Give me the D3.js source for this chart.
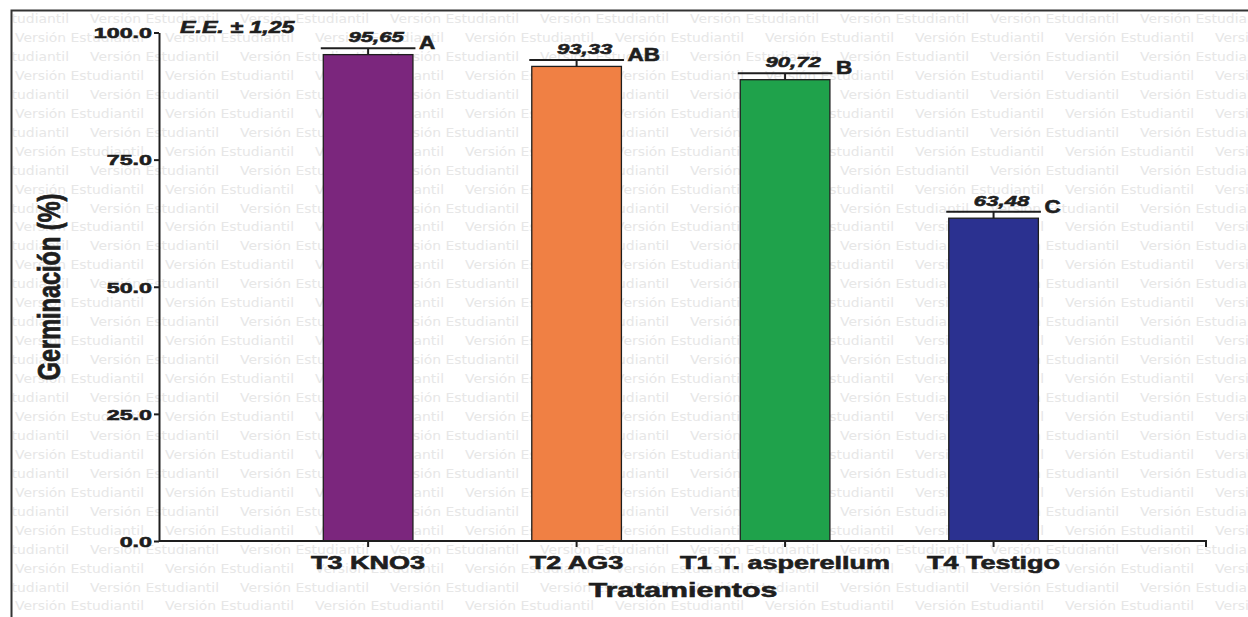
<!DOCTYPE html>
<html>
<head>
<meta charset="utf-8">
<script src="https://cdn.jsdelivr.net/npm/d3@7"></script>
<style>
body { margin: 0; background: #fff; }
svg { display: block; }
.heavy { stroke: #1e1e1e; stroke-width: 0.6px; paint-order: stroke; }
</style>
</head>
<body>
<svg width="1248" height="617"></svg>
<script type="text/javascript">
// Chart values
var categories = ['T3 KNO3', 'T2 AG3', 'T1 T. asperellum', 'T4 Testigo'];
var germination = [95.65, 93.33, 90.72, 63.48];
var valueLabels = ['95,65', '93,33', '90,72', '63,48'];
var letters = ['A', 'AB', 'B', 'C'];
var barColors = ['#7b267d', '#f08044', '#1fa24b', '#2b3190'];
var yTicks = [0, 25, 50, 75, 100];
var stdError = 1.25;

var font = "'Liberation Sans', Arial, Helvetica, sans-serif";
var ink = '#1e1e1e';

var svg = d3.select('svg');

// Scales
var x = d3.scaleBand()
    .domain(categories)
    .range([159, 1206])
    .paddingInner(0.57)
    .paddingOuter(0.796)
    .align(0.495);

var y = d3.scaleLinear()
    .domain([0, 100])
    .range([541, 32.5]);

// Clip for the watermark, inside the frame
svg.append('defs').append('clipPath')
    .attr('id', 'frameClip')
  .append('rect')
    .attr('x', 12.5).attr('y', 11.5)
    .attr('width', 1248).attr('height', 617);

// Watermark rows ("Versión Estudiantil")
var wm = svg.append('g').attr('clip-path', 'url(#frameClip)');
for (var i = 0; i < 33; i++) {
    var wy = 19 + 18.95 * i + 4;
    var off = (i % 2 === 0) ? 90 : 15;
    for (var wx = off - 150; wx < 1248; wx += 150) {
        wm.append('text')
            .attr('transform', 'translate(' + wx + ',' + wy + ') scale(1.21,1)')
            .style('font-family', "'DejaVu Sans', Verdana, sans-serif")
            .style('font-size', '11.5px')
            .style('fill', '#e7e7e7')
            .text('Versión Estudiantil');
    }
}

// Frame (top and left)
svg.append('path')
    .attr('d', 'M11.5,617V10.5H1248')
    .attr('fill', 'none')
    .attr('stroke', '#333')
    .attr('stroke-width', 2);

// Bars
svg.selectAll('rect.bar')
    .data(germination)
    .enter()
    .append('rect')
    .attr('class', 'bar')
    .attr('x', function(d, i) { return x(categories[i]); })
    .attr('y', function(d) { return y(d); })
    .attr('width', x.bandwidth())
    .attr('height', function(d) { return y(0) - y(d); })
    .attr('fill', function(d, i) { return barColors[i]; })
    .attr('stroke', ink)
    .attr('stroke-width', 1.3);

// Error bars
function cx(i) { return x(categories[i]) + x.bandwidth() / 2; }

svg.selectAll('line.err')
    .data(germination)
    .enter()
    .append('line')
    .attr('class', 'err')
    .attr('x1', function(d, i) { return cx(i); })
    .attr('x2', function(d, i) { return cx(i); })
    .attr('y1', function(d) { return y(d); })
    .attr('y2', function(d) { return y(d + stdError); })
    .attr('stroke', ink)
    .attr('stroke-width', 2);

svg.selectAll('line.cap')
    .data(germination)
    .enter()
    .append('line')
    .attr('class', 'cap')
    .attr('x1', function(d, i) { return cx(i) - x.bandwidth() / 2 - 2.5; })
    .attr('x2', function(d, i) { return cx(i) + x.bandwidth() / 2 + 2.5; })
    .attr('y1', function(d) { return y(d + stdError); })
    .attr('y2', function(d) { return y(d + stdError); })
    .attr('stroke', ink)
    .attr('stroke-width', 2);

// Value labels
svg.selectAll('text.val')
    .data(germination)
    .enter()
    .append('text')
    .attr('class', 'val heavy')
    .attr('transform', function(d, i) {
        return 'translate(' + (cx(i) + 8) + ',' + (y(d + stdError) - 6) + ') scale(1.43,1)';
    })
    .attr('text-anchor', 'middle')
    .style('font-family', font)
    .style('font-weight', 'bold')
    .style('font-style', 'italic')
    .style('font-size', '15.5px')
    .style('fill', ink)
    .text(function(d, i) { return valueLabels[i]; });

// Significance letters
svg.selectAll('text.let')
    .data(germination)
    .enter()
    .append('text')
    .attr('class', 'let heavy')
    .attr('transform', function(d, i) {
        return 'translate(' + (x(categories[i]) + x.bandwidth() + 6) + ',' + (y(d + stdError) + 1) + ') scale(1.25,1)';
    })
    .style('font-family', font)
    .style('font-weight', 'bold')
    .style('font-size', '18px')
    .style('fill', ink)
    .text(function(d, i) { return letters[i]; });

// Y axis
var gy = svg.append('g')
    .attr('transform', 'translate(159,0)')
    .call(d3.axisLeft(y).tickValues(yTicks).tickFormat(d3.format('.1f')).tickSize(5).tickSizeOuter(0));
gy.select('.domain').attr('stroke', ink).attr('stroke-width', 2);
gy.selectAll('.tick line').attr('stroke', ink).attr('stroke-width', 2);
gy.selectAll('.tick text')
    .attr('class', 'heavy')
    .attr('x', 0)
    .attr('dy', '0.35em')
    .attr('transform', 'translate(-7,0) scale(1.55,1)')
    .style('font-family', font)
    .style('font-weight', 'bold')
    .style('font-size', '15px')
    .style('fill', ink);

// X axis
var gx = svg.append('g')
    .attr('transform', 'translate(0,541)')
    .call(d3.axisBottom(x).tickSize(6).tickSizeOuter(0));
gx.select('.domain').remove();
gx.append('path')
    .attr('d', 'M159,0H1206V6')
    .attr('fill', 'none')
    .attr('stroke', ink)
    .attr('stroke-width', 2);
gx.selectAll('.tick line').attr('stroke', ink).attr('stroke-width', 2);
gx.selectAll('.tick text')
    .attr('class', 'heavy')
    .attr('y', 0)
    .attr('dy', 0)
    .attr('transform', 'translate(0,28.3) scale(1.5,1)')
    .style('font-family', font)
    .style('font-weight', 'bold')
    .style('font-size', '18px')
    .style('fill', ink);

// Standard error note
svg.append('text')
    .attr('class', 'heavy')
    .attr('transform', 'translate(180,33.3) scale(1.45,1)')
    .style('font-family', font)
    .style('font-weight', 'bold')
    .style('font-style', 'italic')
    .style('font-size', '16px')
    .style('fill', ink)
    .text('E.E. ± 1,25');

// Axis titles
svg.append('text')
    .attr('class', 'heavy')
    .attr('transform', 'translate(60,287) scale(1.3,1) rotate(-90)')
    .attr('text-anchor', 'middle')
    .style('font-family', font)
    .style('font-weight', 'bold')
    .style('font-size', '23.5px')
    .style('fill', ink)
    .text('Germinación (%)');

svg.append('text')
    .attr('class', 'heavy')
    .attr('transform', 'translate(683,597.3) scale(1.48,1)')
    .attr('text-anchor', 'middle')
    .style('font-family', font)
    .style('font-weight', 'bold')
    .style('font-size', '20.5px')
    .style('fill', ink)
    .text('Tratamientos');
</script>
</body>
</html>
